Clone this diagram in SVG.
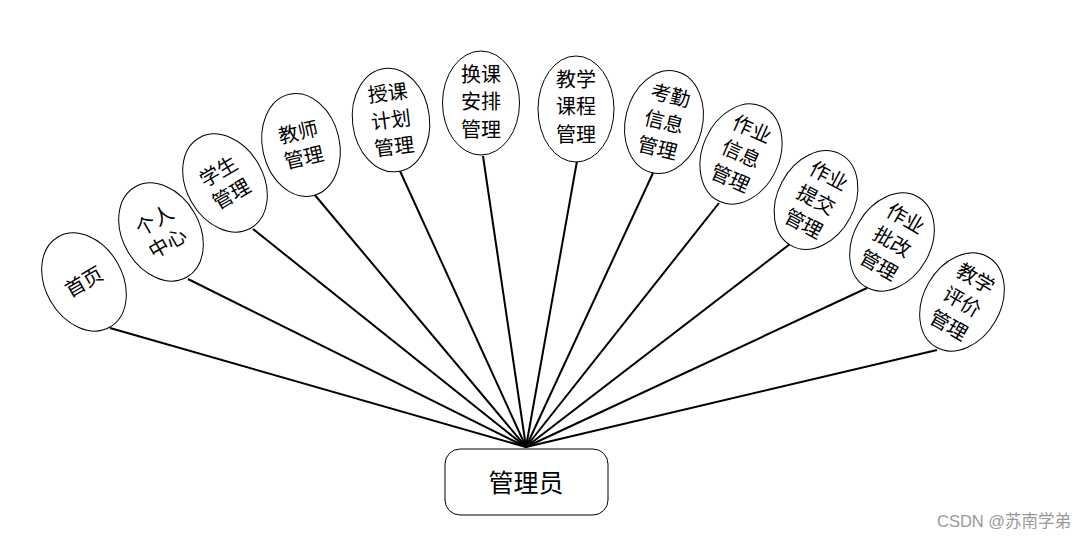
<svg xmlns="http://www.w3.org/2000/svg" width="1087" height="538" viewBox="0 0 1087 538">
<style>
.n ellipse{fill:#fff;stroke:#000;stroke-width:1}
.n text{font-family:"Noto Sans CJK SC","Liberation Serif",sans-serif;font-size:20px;fill:#000;text-anchor:middle}
#conn line{stroke:#000;stroke-width:2}
.box{fill:#fff;stroke:#000;stroke-width:1}
.wm{font-family:"Liberation Sans","Noto Sans CJK SC",sans-serif;font-size:16.5px;fill:#999}
</style>
<rect width="1087" height="538" fill="#fff"/>
<g id="conn">
<line x1="110" y1="328" x2="526" y2="447"/>
<line x1="188" y1="279" x2="526" y2="447"/>
<line x1="253" y1="229" x2="526" y2="447"/>
<line x1="314" y1="194" x2="526" y2="447"/>
<line x1="400" y1="171" x2="526" y2="447"/>
<line x1="483" y1="156" x2="526" y2="447"/>
<line x1="577" y1="161" x2="526" y2="447"/>
<line x1="653" y1="173" x2="526" y2="447"/>
<line x1="719" y1="203" x2="526" y2="447"/>
<line x1="790" y1="244" x2="526" y2="447"/>
<line x1="867" y1="288" x2="526" y2="447"/>
<line x1="937" y1="350" x2="526" y2="447"/>
</g>
<g id="n1" class="n" transform="translate(84,282) rotate(-30)"><ellipse rx="38.5" ry="52"/><text y="7">首页</text></g>
<g id="n2" class="n" transform="translate(161,232) rotate(-30)"><ellipse rx="38.5" ry="52"/><text y="-6">个人</text><text y="20">中心</text></g>
<g id="n3" class="n" transform="translate(225,183) rotate(-30)"><ellipse rx="38.5" ry="52"/><text y="-6">学生</text><text y="20">管理</text></g>
<g id="n4" class="n" transform="translate(301,145) rotate(-13)"><ellipse rx="38.5" ry="52"/><text y="-6">教师</text><text y="20">管理</text></g>
<g id="n5" class="n" transform="translate(391,120) rotate(-7)"><ellipse rx="38.5" ry="52"/><text y="-20">授课</text><text y="7">计划</text><text y="34">管理</text></g>
<g id="n6" class="n" transform="translate(481,103)"><ellipse rx="38.5" ry="52"/><text y="-21">换课</text><text y="6">安排</text><text y="34">管理</text></g>
<g id="n7" class="n" transform="translate(576,109)"><ellipse rx="38" ry="53"/><text y="-22">教学</text><text y="5">课程</text><text y="33">管理</text></g>
<g id="n8" class="n" transform="translate(664,122) rotate(14)"><ellipse rx="38.5" ry="52"/><text y="-20">考勤</text><text y="7">信息</text><text y="34">管理</text></g>
<g id="n9" class="n" transform="translate(741,154) rotate(24)"><ellipse rx="38.5" ry="52"/><text y="-20">作业</text><text y="7">信息</text><text y="34">管理</text></g>
<g id="n10" class="n" transform="translate(816,200) rotate(28)"><ellipse rx="38.5" ry="52"/><text y="-20">作业</text><text y="7">提交</text><text y="34">管理</text></g>
<g id="n11" class="n" transform="translate(892,242) rotate(30)"><ellipse rx="38.5" ry="52"/><text y="-20">作业</text><text y="7">批改</text><text y="34">管理</text></g>
<g id="n12" class="n" transform="translate(962,302) rotate(30)"><ellipse rx="38.5" ry="52"/><text y="-20">教学</text><text y="7">评价</text><text y="34">管理</text></g>
<g id="admin">
<rect class="box" x="445" y="449" width="163" height="66" rx="15"/>
<text x="526" y="492" text-anchor="middle" font-family="Noto Sans CJK SC, Liberation Serif, sans-serif" font-size="25">管理员</text>
</g>
<text class="wm" x="937" y="527">CSDN @苏南学弟</text>
</svg>
